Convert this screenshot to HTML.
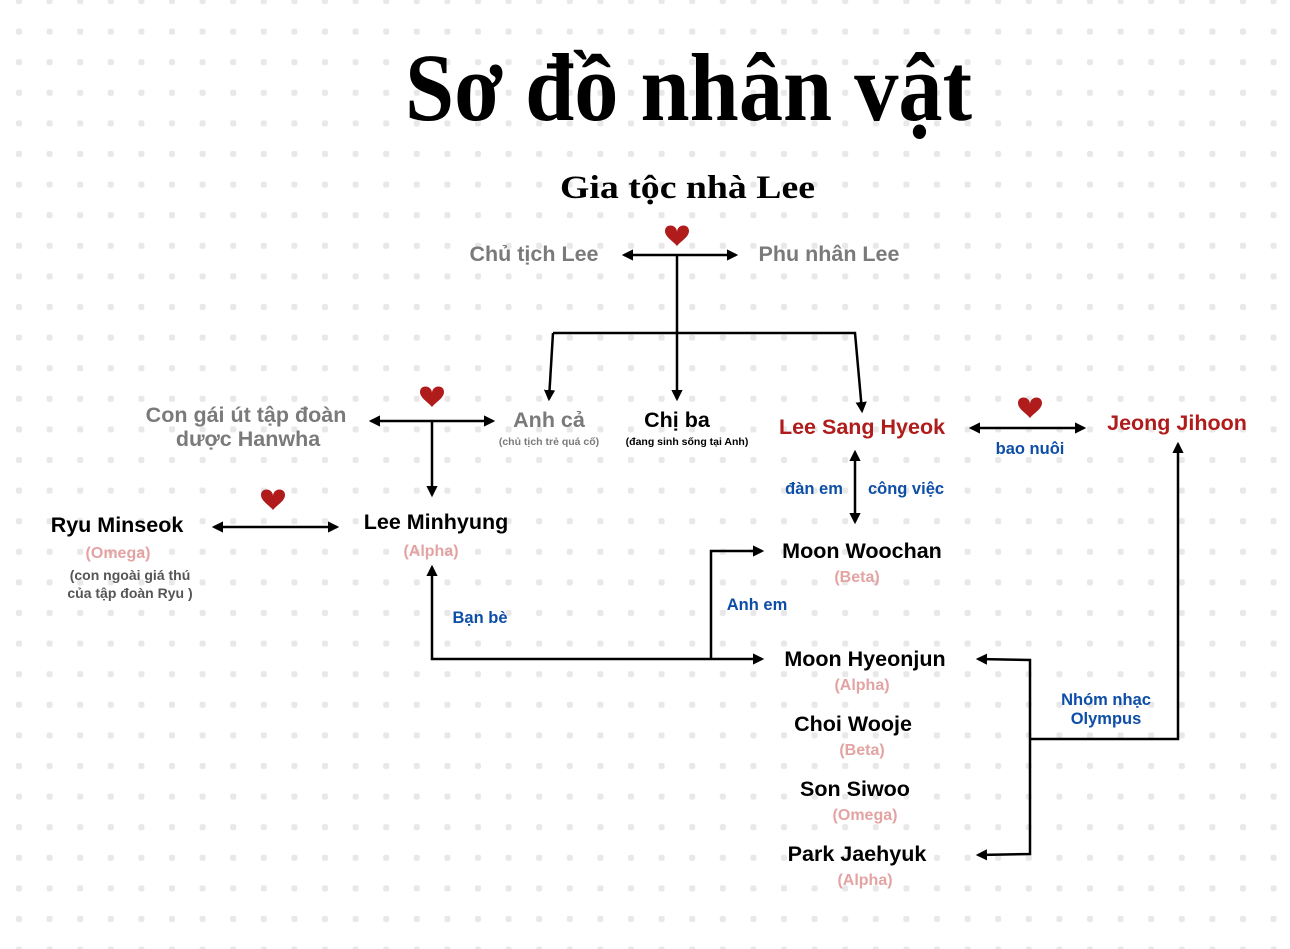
<!DOCTYPE html>
<html><head><meta charset="utf-8"><style>
html,body{margin:0;padding:0;background:#fff}
svg{display:block}
.t{font-family:"Liberation Sans",sans-serif;font-weight:bold}
</style></head><body>
<svg width="1290" height="949" viewBox="0 0 1290 949" xmlns="http://www.w3.org/2000/svg">
<defs>
<pattern id="dots" x="16" y="-2" width="30.6" height="30.6" patternUnits="userSpaceOnUse">
<rect x="0" y="0" width="6" height="6" rx="2" fill="#e8e8e8"/>
</pattern>
<marker id="a" viewBox="0 0 10 10" refX="8" refY="5" markerWidth="4.5" markerHeight="4.5" orient="auto-start-reverse">
<path d="M0,0 L10,5 L0,10 z" fill="#000"/>
</marker>
<path id="h" d="M0,6 C0,-2 -12,-3 -12,5 C-12,11 -4,15 0,20 C4,15 12,11 12,5 C12,-3 0,-2 0,6z" fill="#b01c1c"/>
</defs>
<rect width="1290" height="949" fill="#fff"/>
<rect width="1290" height="949" fill="url(#dots)"/>

<text x="405" y="120" textLength="567" lengthAdjust="spacingAndGlyphs" font-family="Liberation Serif,serif" font-weight="bold" font-size="96" fill="#000">Sơ đồ nhân vật</text>
<text x="560" y="198" textLength="255" lengthAdjust="spacingAndGlyphs" font-family="Liberation Serif,serif" font-weight="bold" font-size="33" fill="#000">Gia tộc nhà Lee</text>

<g stroke="#000" stroke-width="2.5" fill="none">
<line x1="624" y1="255" x2="736" y2="255" marker-start="url(#a)" marker-end="url(#a)"/>
<line x1="677" y1="255" x2="677" y2="399" marker-end="url(#a)"/>
<polyline points="553,333 855,333 862,411" marker-end="url(#a)"/>
<line x1="553" y1="333" x2="549" y2="399" marker-end="url(#a)"/>
<line x1="371" y1="421" x2="493" y2="421" marker-start="url(#a)" marker-end="url(#a)"/>
<line x1="432" y1="421" x2="432" y2="495" marker-end="url(#a)"/>
<line x1="214" y1="527" x2="337" y2="527" marker-start="url(#a)" marker-end="url(#a)"/>
<line x1="971" y1="428" x2="1084" y2="428" marker-start="url(#a)" marker-end="url(#a)"/>
<line x1="855" y1="452" x2="855" y2="522" marker-start="url(#a)" marker-end="url(#a)"/>
<polyline points="432,567 432,659 762,659" marker-start="url(#a)" marker-end="url(#a)"/>
<polyline points="711,659 711,551 762,551" marker-end="url(#a)"/>
<polyline points="978,659 1030,660 1030,854 978,855" marker-start="url(#a)" marker-end="url(#a)"/>
<polyline points="1030,739 1178,739 1178,444" marker-end="url(#a)"/>
</g>
<use href="#h" x="677" y="226"/>
<use href="#h" x="432" y="387"/>
<use href="#h" x="273" y="490"/>
<use href="#h" x="1030" y="398"/>

<g class="t" font-size="21.5" text-anchor="middle">
<text x="534" y="261" fill="#7a7a7a">Chủ tịch Lee</text>
<text x="829" y="261" fill="#7a7a7a">Phu nhân Lee</text>
<text x="246" y="422" fill="#7a7a7a">Con gái út tập đoàn</text>
<text x="248" y="446" fill="#7a7a7a">dược Hanwha</text>
<text x="549" y="427" fill="#7a7a7a">Anh cả</text>
<text x="677" y="427" fill="#000">Chị ba</text>
<text x="862" y="434" fill="#b01c1c">Lee Sang Hyeok</text>
<text x="1177" y="430" fill="#b01c1c">Jeong Jihoon</text>
<text x="117" y="532" fill="#000">Ryu Minseok</text>
<text x="436" y="529" fill="#000">Lee Minhyung</text>
<text x="862" y="558" fill="#000">Moon Woochan</text>
<text x="865" y="666" fill="#000">Moon Hyeonjun</text>
<text x="853" y="731" fill="#000">Choi Wooje</text>
<text x="855" y="796" fill="#000">Son Siwoo</text>
<text x="857" y="861" fill="#000">Park Jaehyuk</text>
</g>
<g class="t" font-size="10.5" text-anchor="middle">
<text x="549" y="445" fill="#7a7a7a">(chủ tịch trẻ quá cố)</text>
<text x="687" y="445" fill="#000">(đang sinh sống tại Anh)</text>
</g>
<g class="t" font-size="14" text-anchor="middle" fill="#555">
<text x="130" y="580">(con ngoài giá thú</text>
<text x="130" y="598">của tập đoàn Ryu )</text>
</g>
<g class="t" font-size="16" text-anchor="middle" fill="#e3a3a3">
<text x="118" y="558">(Omega)</text>
<text x="431" y="556">(Alpha)</text>
<text x="857" y="582">(Beta)</text>
<text x="862" y="690">(Alpha)</text>
<text x="862" y="755">(Beta)</text>
<text x="865" y="820">(Omega)</text>
<text x="865" y="885">(Alpha)</text>
</g>
<g class="t" font-size="16.5" text-anchor="middle" fill="#0d4ea6">
<text x="1030" y="454">bao nuôi</text>
<text x="814" y="494">đàn em</text>
<text x="906" y="494">công việc</text>
<text x="480" y="623">Bạn bè</text>
<text x="757" y="610">Anh em</text>
<text x="1106" y="705">Nhóm nhạc</text>
<text x="1106" y="724">Olympus</text>
</g>
</svg>
</body></html>
